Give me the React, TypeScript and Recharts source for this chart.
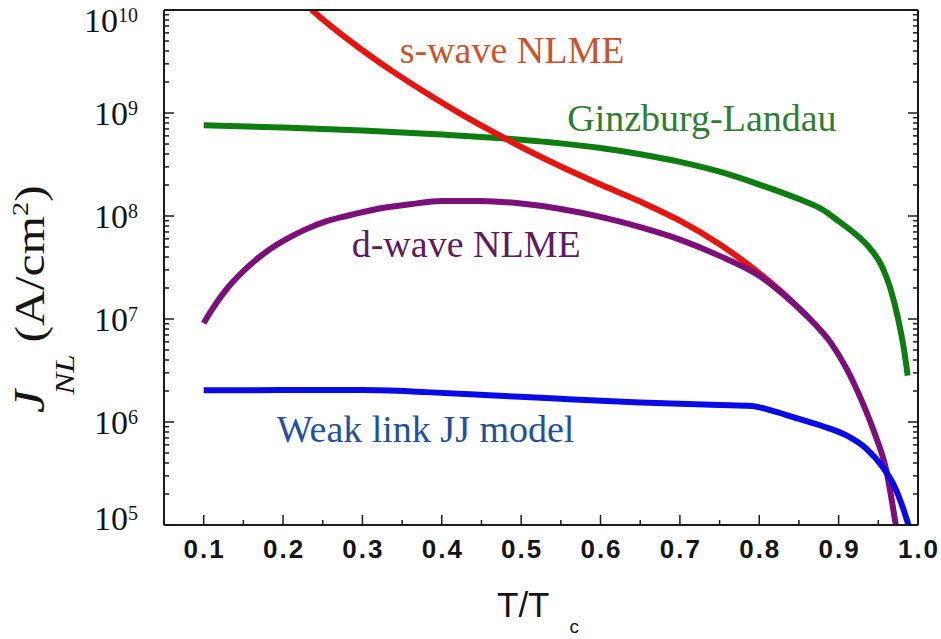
import React from 'react';
import { LineChart, Line, XAxis, YAxis, ReferenceDot, Label } from 'recharts';

// ---- series: reduced temperature T/Tc and critical current density J_NL (A/cm^2)
const glT = [0.1, 0.2, 0.3, 0.4, 0.5, 0.55, 0.6, 0.65, 0.7, 0.75, 0.8, 0.85, 0.88, 0.9, 0.92, 0.94, 0.955, 0.965, 0.975, 0.982, 0.987];
const glJ = [7.59e8, 7.24e8, 6.76e8, 6.17e8, 5.5e8, 5.07e8, 4.57e8, 3.98e8, 3.35e8, 2.69e8, 2.02e8, 1.46e8, 1.15e8, 8.9e7, 6.8e7, 4.8e7, 3.2e7, 2.0e7, 1.0e7, 5.25e6, 2.82e6];

const sWaveT = [0.236, 0.26, 0.3, 0.34, 0.38, 0.42, 0.46, 0.5, 0.55, 0.6, 0.65, 0.7, 0.75, 0.8, 0.83, 0.86];
const sWaveJ = [1.0e10, 7.0e9, 4.07e9, 2.48e9, 1.57e9, 1.02e9, 6.84e8, 4.68e8, 3.02e8, 2.02e8, 1.38e8, 9.0e7, 5.31e7, 2.79e7, 1.78e7, 1.07e7];

const dWaveT = [0.1, 0.11, 0.13, 0.15, 0.17, 0.19, 0.21, 0.23, 0.255, 0.28, 0.32, 0.36, 0.4, 0.45, 0.5, 0.55, 0.6, 0.65, 0.7, 0.75, 0.8, 0.83, 0.86, 0.89, 0.91, 0.93, 0.945, 0.96, 0.972];
const dWaveJ = [9.12e6, 1.22e7, 2.0e7, 2.92e7, 3.98e7, 5.13e7, 6.31e7, 7.5e7, 8.91e7, 1.0e8, 1.175e8, 1.3e8, 1.4e8, 1.4e8, 1.32e8, 1.17e8, 9.8e7, 7.8e7, 5.9e7, 4.1e7, 2.63e7, 1.74e7, 1.07e7, 5.9e6, 3.3e6, 1.55e6, 7.9e5, 3.4e5, 1.0e5];

const wlT = [0.1, 0.2, 0.3, 0.38, 0.46, 0.55, 0.65, 0.75, 0.79, 0.82, 0.85, 0.88, 0.91, 0.935, 0.955, 0.97, 0.98, 0.988];
const wlJ = [2.03e6, 2.04e6, 2.04e6, 1.95e6, 1.82e6, 1.68e6, 1.55e6, 1.46e6, 1.43e6, 1.26e6, 1.07e6, 9.1e5, 7.4e5, 5.5e5, 3.7e5, 2.4e5, 1.55e5, 1.0e5];

// ---- axes
const xMajor = [0.1, 0.2, 0.3, 0.4, 0.5, 0.6, 0.7, 0.8, 0.9, 1.0];
const xTickLabels = ['0.1', '0.2', '0.3', '0.4', '0.5', '0.6', '0.7', '0.8', '0.9', '1.0'];
const xMinor = [0.15, 0.25, 0.35, 0.45, 0.55, 0.65, 0.75, 0.85, 0.95];
const yExponents = [5, 6, 7, 8, 9, 10];
const yMinorFactors = [2, 3, 4, 5, 6, 7, 8, 9];

// ---- curve names, anchored at (T, J) with their colours
const seriesNames = ['s-wave NLME', 'Ginzburg-Landau', 'd-wave NLME', 'Weak link JJ model'];
const nameAnchorT = [0.347, 0.558, 0.2865, 0.192];
const nameAnchorJ = [3.05e9, 6.67e8, 4.01e7, 6.34e5];
const nameColors = ['#c9542c', '#2f7d2f', '#5e1b5e', '#22509f'];

const zip = (t: number[], j: number[]) => t.map((v, i) => ({ t: v, j: j[i] }));
const glData = zip(glT, glJ);
const sWaveData = zip(sWaveT, sWaveJ);
const dWaveData = zip(dWaveT, dWaveJ);
const wlData = zip(wlT, wlJ);

const xTicks = [...xMajor, ...xMinor].sort((a, b) => a - b);
const yTicks: number[] = [];
yExponents.forEach((e) => {
  yTicks.push(Math.pow(10, e));
  if (e < 10) yMinorFactors.forEach((f) => yTicks.push(f * Math.pow(10, e)));
});

// ---- layout
const W = 941;
const H = 639;
const MARGIN = { top: 5, right: 18, bottom: 0, left: 64 };
const Y_AXIS_W = 100;
const X_AXIS_H = 114;
const INK = '#1b1b1b';
const MAJOR_LEN = 10;
const MINOR_LEN = 5;
const LINE_W = 6;
const SERIF = '"Liberation Serif", "Times New Roman", serif';
const SANS = '"Liberation Sans", Arial, sans-serif';

const isMajorX = (v: number) => xMajor.findIndex((m) => Math.abs(m - v) < 1e-9);
const decadeOf = (v: number) => {
  const l = Math.log10(v);
  return Math.abs(l - Math.round(l)) < 1e-6 ? Math.round(l) : null;
};

function BottomTick(props: any) {
  const { x, y, payload } = props;
  const idx = isMajorX(payload.value);
  const major = idx >= 0;
  return (
    <g>
      <line x1={x} x2={x} y1={y} y2={y - (major ? MAJOR_LEN : MINOR_LEN)} stroke={INK} strokeWidth={1.5} />
      {major && (
        <text x={x + 1} y={y + 33} textAnchor="middle" fontFamily={SANS} fontSize={26} fontWeight="bold" letterSpacing={2} fill="#151515">
          {xTickLabels[idx]}
        </text>
      )}
    </g>
  );
}

function TopTick(props: any) {
  const { x, y, payload } = props;
  const major = isMajorX(payload.value) >= 0;
  return <line x1={x} x2={x} y1={y} y2={y + (major ? MAJOR_LEN - 2 : MINOR_LEN)} stroke={INK} strokeWidth={1.5} />;
}

function LeftTick(props: any) {
  const { x, y, payload } = props;
  const e = decadeOf(payload.value);
  const major = e !== null;
  let dy = 12;
  if (e === 10) dy = 22;
  if (e === 5) dy = 5;
  return (
    <g>
      <line x1={x} x2={x + (major ? MAJOR_LEN : MINOR_LEN)} y1={y} y2={y} stroke={INK} strokeWidth={1.5} />
      {major && (
        <text x={x - 26} y={y + dy} textAnchor="end" fontFamily={SERIF} fontSize={34} fill="#151515">
          10
          <tspan fontSize={20} dy={-10}>{String(e)}</tspan>
        </text>
      )}
    </g>
  );
}

function RightTick(props: any) {
  const { x, y, payload } = props;
  const major = decadeOf(payload.value) !== null;
  return <line x1={x} x2={x - (major ? MAJOR_LEN : MINOR_LEN)} y1={y} y2={y} stroke={INK} strokeWidth={1.5} />;
}

// Rotated y-axis title, written upward from the bottom of the plot area
function YTitle() {
  const baseX = MARGIN.left - 20;
  const startY = 413;
  return (
    <g transform={`translate(${baseX} ${startY}) rotate(-90) scale(1.18 1)`}>
      <text x={0} y={0} textAnchor="start" fontFamily={SERIF} fontSize={42} fill="#151515">
        <tspan fontStyle="italic" fontSize={44}>J</tspan>
        <tspan fontStyle="italic" fontSize={28} dy={30} dx={-4}>NL</tspan>
        <tspan dy={-30} dx={10}>(A/cm</tspan>
        <tspan fontSize={24} dy={-16}>2</tspan>
        <tspan dy={16}>)</tspan>
      </text>
    </g>
  );
}

function XTitle() {
  return (
    <text x={497} y={617} fontFamily={SANS} fontSize={35} fill="#151515">
      T/T
      <tspan dx={20} dy={16} fontSize={19}>c</tspan>
    </text>
  );
}

const nameShape = (i: number) => (p: any) => (
  <text x={p.cx} y={p.cy} textAnchor="start" fontFamily={SERIF} fontSize={38} fill={nameColors[i]}>
    {seriesNames[i]}
  </text>
);

export default function App() {
  const axisLine = { stroke: INK, strokeWidth: 2 };
  return (
    <div style={{ position: 'absolute', left: 0, top: 0, width: W, height: H, background: '#ffffff' }}>
      <LineChart width={W} height={H} margin={MARGIN}>
        <XAxis
          dataKey="t"
          type="number"
          domain={[0.05, 1.0]}
          ticks={xTicks}
          interval={0}
          allowDataOverflow
          height={X_AXIS_H}
          tickSize={0}
          tickMargin={0}
          tickLine={false}
          axisLine={axisLine}
          tick={BottomTick}
        >
          <Label content={XTitle} />
        </XAxis>
        <XAxis
          xAxisId="top"
          orientation="top"
          type="number"
          domain={[0.05, 1.0]}
          ticks={xTicks}
          interval={0}
          allowDataOverflow
          height={5}
          tickSize={0}
          tickMargin={0}
          tickLine={false}
          axisLine={axisLine}
          tick={TopTick}
        />
        <YAxis
          type="number"
          scale="log"
          domain={[1e5, 1e10]}
          ticks={yTicks}
          interval={0}
          allowDataOverflow
          width={Y_AXIS_W}
          tickSize={0}
          tickMargin={0}
          tickLine={false}
          axisLine={axisLine}
          tick={LeftTick}
        >
          <Label content={YTitle} />
        </YAxis>
        <YAxis
          yAxisId="right"
          orientation="right"
          type="number"
          scale="log"
          domain={[1e5, 1e10]}
          ticks={yTicks}
          interval={0}
          allowDataOverflow
          width={5}
          tickSize={0}
          tickMargin={0}
          tickLine={false}
          axisLine={axisLine}
          tick={RightTick}
        />

        <Line data={glData} dataKey="j" type="monotone" stroke="#0e7d10" strokeWidth={LINE_W} dot={false} isAnimationActive={false} />
        <Line data={sWaveData} dataKey="j" type="monotone" stroke="#e5140f" strokeWidth={LINE_W} dot={false} isAnimationActive={false} />
        <Line data={dWaveData} dataKey="j" type="monotone" stroke="#7b107b" strokeWidth={LINE_W} dot={false} isAnimationActive={false} />
        <Line data={wlData} dataKey="j" type="monotone" stroke="#0a0ae6" strokeWidth={LINE_W} dot={false} isAnimationActive={false} />

        {seriesNames.map((n, i) => (
          <ReferenceDot key={n} x={nameAnchorT[i]} y={nameAnchorJ[i]} r={0} shape={nameShape(i)} />
        ))}
      </LineChart>
    </div>
  );
}
